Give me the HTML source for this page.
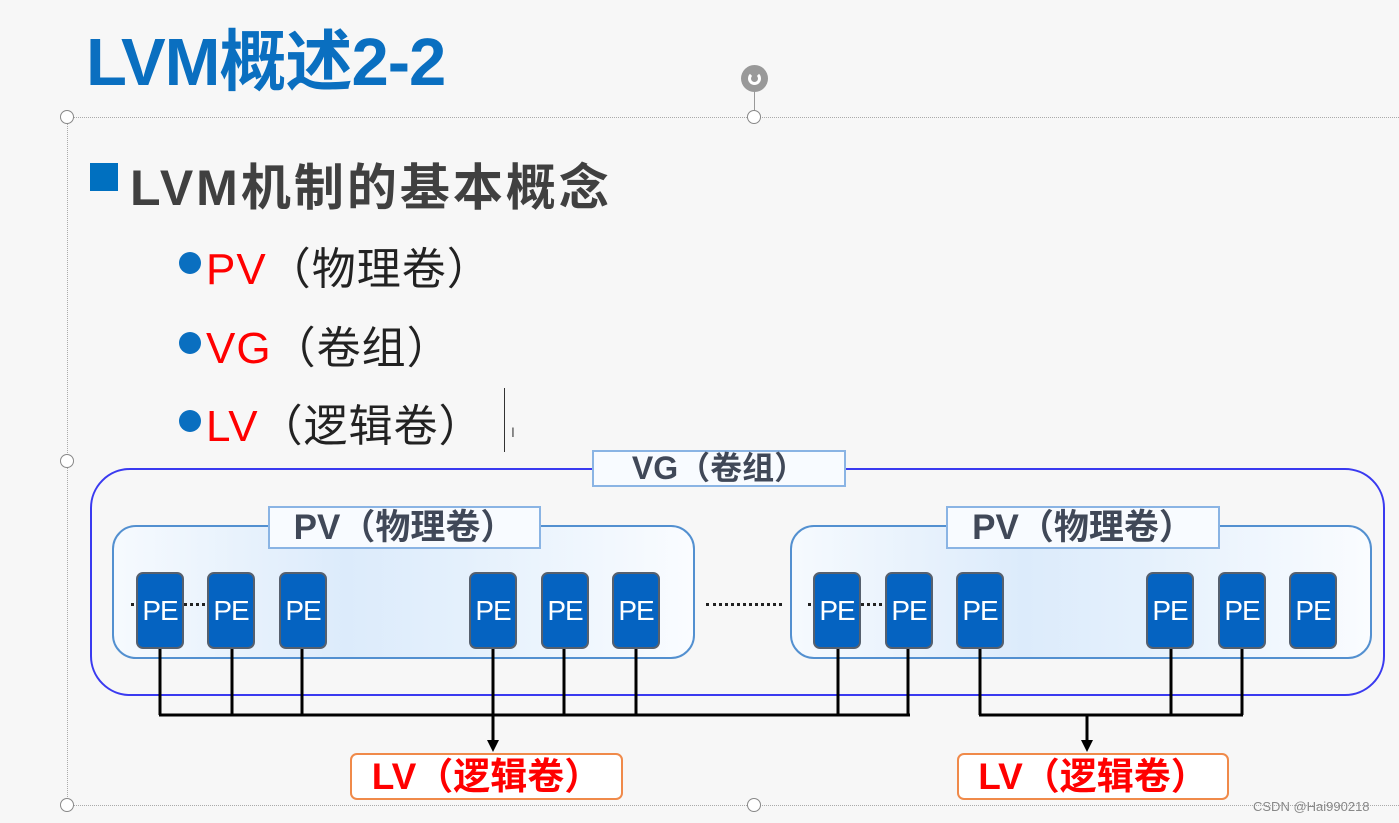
<!DOCTYPE html>
<html><head><meta charset="utf-8">
<style>
*{margin:0;padding:0;box-sizing:border-box}
body{width:1399px;height:823px;overflow:hidden;background:#f7f7f7;position:relative;font-family:"Liberation Sans","Noto Sans CJK SC",sans-serif}
.a{position:absolute}
.h{position:absolute;width:14px;height:14px;border:1.5px solid #888;border-radius:50%;background:#fff}
.pe{position:absolute;top:572px;width:48px;height:77px;background:#0563c1;border:2px solid #56606e;border-radius:7px;color:#fff;font-size:28px;line-height:73px;text-align:center;letter-spacing:-1px}
.pv{position:absolute;top:525px;height:134px;border:2px solid #5390d0;border-radius:24px;background:linear-gradient(90deg,#f6fafe 0%,#dcebfb 40%,#e4f0fc 60%,#fafcff 100%)}
.lbl{position:absolute;background:#f8fbff;border:2px solid #8ab4e4;color:#404858;font-weight:bold;text-align:center;white-space:nowrap}
.lv{position:absolute;top:753px;height:47px;border:2px solid #f08a4a;border-radius:7px;background:#fff;color:#f00;font-weight:bold;font-size:37px;line-height:43px;text-align:center;white-space:nowrap}
.bl{position:absolute;left:206px;font-size:44px;color:#222;letter-spacing:1px;white-space:nowrap}
.bl span{color:#f00}
.dot{position:absolute;left:179px;width:22px;height:22px;border-radius:50%;background:#0a6fc0}
</style></head><body>
<div class="a" style="left:86px;top:8px;font-size:67px;font-weight:bold;color:#0a6fc0;letter-spacing:-1px">LVM概述2-2</div>
<div class="a" style="left:67px;top:117px;width:1332px;border-top:1.5px dotted #aaa"></div>
<div class="a" style="left:67px;top:805px;width:1332px;border-top:1.5px dotted #aaa"></div>
<div class="a" style="left:67px;top:117px;height:688px;border-left:1.5px dotted #aaa"></div>
<div class="a" style="left:754px;top:88px;height:28px;border-left:1.5px solid #999"></div>
<div class="a" style="left:741px;top:65px;width:27px;height:27px;border-radius:50%;background:#999"></div>
<div class="a" style="left:748px;top:72px;width:13px;height:13px;border-radius:50%;border:3px solid #fff;border-top-color:transparent"></div>
<div class="h" style="left:60px;top:110px"></div>
<div class="h" style="left:747px;top:110px"></div>
<div class="h" style="left:60px;top:454px"></div>
<div class="h" style="left:60px;top:798px"></div>
<div class="h" style="left:747px;top:798px"></div>

<div class="a" style="left:90px;top:163px;width:28px;height:28px;background:#0070c0"></div>
<div class="a" style="left:130px;top:148px;font-size:50px;font-weight:bold;color:#404040;letter-spacing:3px;white-space:nowrap">LVM机制的基本概念</div>
<div class="dot" style="top:252px"></div>
<div class="dot" style="top:332px"></div>
<div class="dot" style="top:410px"></div>
<div class="bl" style="top:233px"><span>PV</span>（物理卷）</div>
<div class="bl" style="top:312px"><span>VG</span>（卷组）</div>
<div class="bl" style="top:390px"><span>LV</span>（逻辑卷）</div>
<div class="a" style="left:504px;top:388px;height:64px;border-left:1.5px solid #333"></div>
<div class="a" style="left:511px;top:424px;font-size:14px;color:#555">I</div>

<div class="a" style="left:90px;top:468px;width:1295px;height:228px;border:2px solid #3a3af0;border-radius:40px"></div>
<div class="lbl" style="left:592px;top:450px;width:254px;height:37px;font-size:32px;line-height:33px">VG（卷组）</div>

<div class="pv" style="left:112px;width:583px"></div>
<div class="pv" style="left:790px;width:582px"></div>
<div class="lbl" style="left:268px;top:506px;width:273px;height:43px;font-size:35px;line-height:39px">PV（物理卷）</div>
<div class="lbl" style="left:946px;top:506px;width:274px;height:43px;font-size:35px;line-height:39px">PV（物理卷）</div>

<div class="a" style="left:131px;top:603px;width:80px;border-top:3px dotted #222"></div>
<div class="a" style="left:808px;top:603px;width:80px;border-top:3px dotted #222"></div>
<div class="a" style="left:706px;top:603px;width:76px;border-top:3px dotted #222"></div>

<div class="pe" style="left:136px">PE</div>
<div class="pe" style="left:207px">PE</div>
<div class="pe" style="left:279px">PE</div>
<div class="pe" style="left:469px">PE</div>
<div class="pe" style="left:541px">PE</div>
<div class="pe" style="left:612px">PE</div>
<div class="pe" style="left:813px">PE</div>
<div class="pe" style="left:885px">PE</div>
<div class="pe" style="left:956px">PE</div>
<div class="pe" style="left:1146px">PE</div>
<div class="pe" style="left:1218px">PE</div>
<div class="pe" style="left:1289px">PE</div>

<svg class="a" style="left:0;top:0" width="1399" height="823">
<g stroke="#000" stroke-width="3" fill="none">
<path d="M160 649V715M232 649V715M302 649V715M493 649V715M564 649V715M636 649V715M838 649V715M908 649V715M159 715H910"/>
<path d="M980 649V715M1171 649V715M1242 649V715M979 715H1243"/>
<path d="M493 715V742M1087 715V742"/>
</g>
<path d="M487 740L499 740L493 752Z M1081 740L1093 740L1087 752Z" fill="#000"/>
</svg>

<div class="lv" style="left:350px;width:273px">LV（逻辑卷）</div>
<div class="lv" style="left:957px;width:272px">LV（逻辑卷）</div>
<div class="a" style="left:1253px;top:799px;font-size:13px;color:#888">CSDN @Hai990218</div>
</body></html>
